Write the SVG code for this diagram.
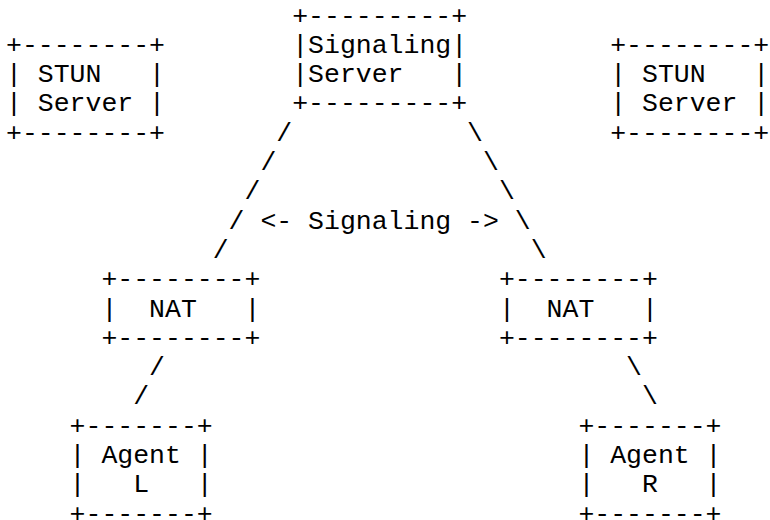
<svg xmlns="http://www.w3.org/2000/svg" width="770" height="520" viewBox="0 0 770 520">
<style>
text{font-family:"Liberation Mono","Courier New",monospace;font-size:26.5px;fill:#000;white-space:pre}
</style>
<rect width="770" height="520" fill="#fff"/>
<g id="stun-left">
<text x="6" y="52.8">+--------+</text>
<text x="6" y="82.1">| STUN   |</text>
<text x="6" y="111.4">| Server |</text>
<text x="6" y="140.7">+--------+</text>
</g>
<g id="signaling-server">
<text x="292.2" y="23.5">+---------+</text>
<text x="292.2" y="52.8">|Signaling|</text>
<text x="292.2" y="82.1">|Server   |</text>
<text x="292.2" y="111.4">+---------+</text>
</g>
<g id="stun-right">
<text x="610.2" y="52.8">+--------+</text>
<text x="610.2" y="82.1">| STUN   |</text>
<text x="610.2" y="111.4">| Server |</text>
<text x="610.2" y="140.7">+--------+</text>
</g>
<g id="nat-left">
<text x="101.4" y="287.2">+--------+</text>
<text x="101.4" y="316.5">|  NAT   |</text>
<text x="101.4" y="345.8">+--------+</text>
</g>
<g id="nat-right">
<text x="498.9" y="287.2">+--------+</text>
<text x="498.9" y="316.5">|  NAT   |</text>
<text x="498.9" y="345.8">+--------+</text>
</g>
<g id="agent-left">
<text x="69.6" y="433.7">+-------+</text>
<text x="69.6" y="463.0">| Agent |</text>
<text x="69.6" y="492.3">|   L   |</text>
<text x="69.6" y="521.6">+-------+</text>
</g>
<g id="agent-right">
<text x="578.4" y="433.7">+-------+</text>
<text x="578.4" y="463.0">| Agent |</text>
<text x="578.4" y="492.3">|   R   |</text>
<text x="578.4" y="521.6">+-------+</text>
</g>
<g id="connectors">
<text x="276.3" y="140.7">/</text>
<text x="260.4" y="170.0">/</text>
<text x="244.5" y="199.3">/</text>
<text x="228.6" y="228.6">/</text>
<text x="212.7" y="257.9">/</text>
<text x="467.1" y="140.7">\</text>
<text x="483" y="170.0">\</text>
<text x="498.9" y="199.3">\</text>
<text x="514.8" y="228.6">\</text>
<text x="530.7" y="257.9">\</text>
<text x="149.1" y="375.1">/</text>
<text x="133.2" y="404.4">/</text>
<text x="626.1" y="375.1">\</text>
<text x="642" y="404.4">\</text>
<text id="signaling-label" x="260.4" y="228.6">&lt;- Signaling -&gt;</text>
</g>
</svg>
